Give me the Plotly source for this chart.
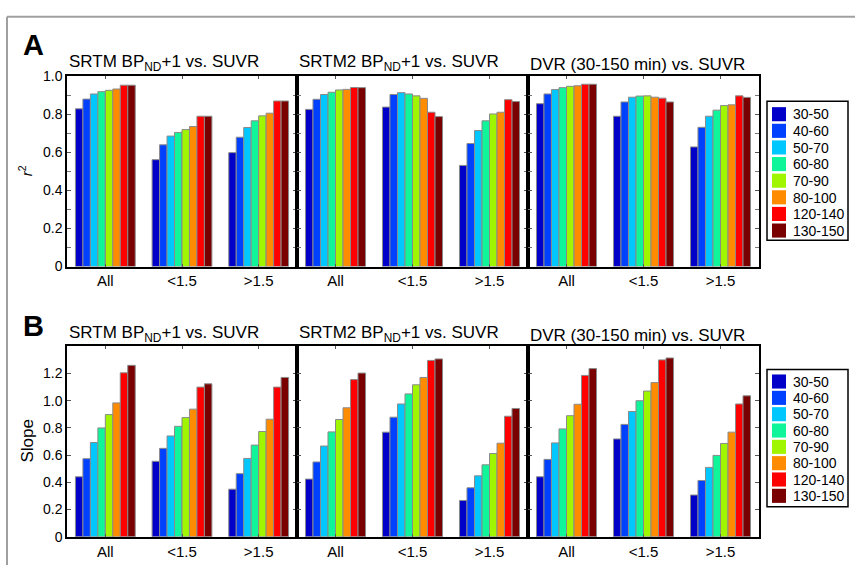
import plotly.graph_objects as go

# ---------------- data ----------------
groups = ["All", "<1.5", ">1.5"]
windows = ["30-50", "40-60", "50-70", "60-80", "70-90", "80-100", "120-140", "130-150"]
colors = ["#0000C8", "#0040FF", "#00C8FF", "#10F59A", "#A0F500", "#FF8C00", "#FF0000", "#7A0000"]

panel_titles = ["SRTM BP<sub>ND</sub>+1 vs. SUVR",
                "SRTM2 BP<sub>ND</sub>+1 vs. SUVR",
                "DVR (30-150 min) vs. SUVR"]

# r^2 values: per method, per window -> [All, <1.5, >1.5]
r2_srtm = [[0.828, 0.561, 0.598], [0.879, 0.639, 0.679], [0.906, 0.685, 0.730], [0.918, 0.704, 0.765],
           [0.925, 0.719, 0.791], [0.932, 0.735, 0.805], [0.952, 0.789, 0.869], [0.952, 0.789, 0.869]]
r2_srtm2 = [[0.825, 0.837, 0.531], [0.878, 0.903, 0.646], [0.903, 0.913, 0.714], [0.915, 0.906, 0.765],
            [0.927, 0.896, 0.801], [0.930, 0.883, 0.810], [0.940, 0.810, 0.876], [0.939, 0.787, 0.866]]
r2_dvr = [[0.855, 0.789, 0.628], [0.906, 0.864, 0.731], [0.929, 0.889, 0.789], [0.939, 0.895, 0.821],
          [0.946, 0.896, 0.845], [0.949, 0.889, 0.849], [0.957, 0.884, 0.896], [0.957, 0.864, 0.888]]

# slope values
sl_srtm = [[0.441, 0.555, 0.350], [0.574, 0.650, 0.464], [0.693, 0.741, 0.576], [0.800, 0.812, 0.674],
           [0.898, 0.876, 0.774], [0.984, 0.938, 0.864], [1.205, 1.100, 1.100], [1.260, 1.124, 1.171]]
sl_srtm2 = [[0.424, 0.769, 0.267], [0.550, 0.879, 0.360], [0.667, 0.976, 0.448], [0.771, 1.050, 0.529],
            [0.862, 1.117, 0.612], [0.948, 1.171, 0.688], [1.155, 1.296, 0.886], [1.203, 1.307, 0.943]]
sl_dvr = [[0.441, 0.719, 0.307], [0.569, 0.826, 0.414], [0.690, 0.921, 0.510], [0.793, 1.000, 0.598],
          [0.890, 1.071, 0.686], [0.974, 1.133, 0.769], [1.186, 1.300, 0.976], [1.236, 1.314, 1.036]]

r2_ticks = [0, 0.2, 0.4, 0.6, 0.8, 1.0]
sl_ticks = [0, 0.2, 0.4, 0.6, 0.8, 1.0, 1.2]

r2_sets = [r2_srtm, r2_srtm2, r2_dvr]
sl_sets = [sl_srtm, sl_srtm2, sl_dvr]

# ---------------- layout geometry ----------------
W, H = 855, 573
FONT = "Liberation Sans, Arial, Helvetica, sans-serif"
xpx = [(67, 297), (297, 528), (528, 759)]
rows = [(70, 266), (348, 544)]  # top, bottom in px


def px_x(a):
    return a / W


def px_y(a):
    return 1 - a / H


fig = go.Figure()
layout = {}
ax = 0
for r, (sets, yr, tvals, minor) in enumerate([
        (r2_sets, [0, 1.0], r2_ticks, 0.1),
        (sl_sets, [0, 1.4], sl_ticks, None)]):
    for c in range(3):
        ax += 1
        xa = "x" if ax == 1 else f"x{ax}"
        ya = "y" if ax == 1 else f"y{ax}"
        data = sets[c]
        for i, w in enumerate(windows):
            fig.add_trace(go.Bar(
                x=groups, y=data[i], name=w,
                marker=dict(color=colors[i], line=dict(color="#8a8a8a", width=1)),
                xaxis=xa, yaxis=ya, showlegend=False,
            ))
        layout[f"xaxis{'' if ax == 1 else ax}"] = dict(
            domain=[px_x(xpx[c][0]), px_x(xpx[c][1])], anchor=ya, showline=True,
            linecolor="black", linewidth=1.5, mirror="ticks", ticks="inside", ticklen=3,
            tickcolor="#555", tickfont=dict(size=15, color="black", family=FONT), showgrid=False,
        )
        yax = dict(
            domain=[px_y(rows[r][1]), px_y(rows[r][0])], anchor=xa, range=yr, showline=True,
            linecolor="black", linewidth=1.5, mirror="ticks", ticks="inside", ticklen=4,
            tickcolor="#555", tickvals=tvals,
            ticktext=["0" if v == 0 else f"{v:.1f}" for v in tvals],
            showgrid=False, zeroline=False,
            showticklabels=(c == 0), tickfont=dict(size=14, color="black", family=FONT),
        )
        if minor:
            yax["minor"] = dict(dtick=minor, tick0=0, ticks="inside", ticklen=4, tickcolor="#777")
        layout[f"yaxis{'' if ax == 1 else ax}"] = yax

fig.update_layout(**layout)
fig.update_layout(
    width=W, height=H, margin=dict(l=0, r=0, t=0, b=0),
    paper_bgcolor="white", plot_bgcolor="white", showlegend=False,
    barmode="group", bargap=0.22, bargroupgap=0,
    font=dict(family=FONT, color="black"),
)

ann = []
shapes = []
for r, ytop in enumerate([70, 349]):
    for c in range(3):
        ann.append(dict(text=panel_titles[c], x=px_x(xpx[c][0] + 0), y=px_y(ytop),
                        xref="paper", yref="paper", xanchor="left", yanchor="bottom",
                        showarrow=False, font=dict(size=17, family=FONT, color="black")))
ann.append(dict(text="<b>A</b>", x=px_x(21), y=px_y(38), xref="paper", yref="paper",
                xanchor="left", yanchor="middle", showarrow=False,
                font=dict(size=29, family=FONT, color="black")))
ann.append(dict(text="<b>B</b>", x=px_x(21), y=px_y(327), xref="paper", yref="paper",
                xanchor="left", yanchor="middle", showarrow=False,
                font=dict(size=29, family=FONT, color="black")))
ann.append(dict(text="<i>r</i><sup>2</sup>", x=px_x(25), y=px_y(168), xref="paper", yref="paper",
                xanchor="center", yanchor="middle", textangle=-90, showarrow=False,
                font=dict(size=15, family=FONT, color="black")))
ann.append(dict(text="Slope", x=px_x(28), y=px_y(446), xref="paper", yref="paper",
                xanchor="center", yanchor="middle", textangle=-90, showarrow=False,
                font=dict(size=17, family=FONT, color="black")))

# manual legends (one per panel)
for (box_top, box_bot, first_sq, pitch) in [(96, 239, 102, 17.1), (372, 513, 377, 16.8)]:
    shapes.append(dict(type="rect", xref="paper", yref="paper",
                       x0=px_x(767), x1=px_x(848), y0=px_y(box_bot), y1=px_y(box_top),
                       line=dict(color="black", width=1.5), fillcolor="white", layer="above"))
    for i, w in enumerate(windows):
        t = first_sq + i * pitch
        shapes.append(dict(type="rect", xref="paper", yref="paper",
                           x0=px_x(772), x1=px_x(786), y0=px_y(t + 14.5), y1=px_y(t),
                           line=dict(width=0), fillcolor=colors[i], layer="above"))
        ann.append(dict(text=w, x=px_x(791), y=px_y(t + 7.5), xref="paper", yref="paper",
                        xanchor="left", yanchor="middle", showarrow=False,
                        font=dict(size=14, family=FONT, color="black")))

# outer grey frame lines
shapes.append(dict(type="line", xref="paper", yref="paper", x0=px_x(7), x1=1, y0=px_y(9), y1=px_y(9),
                   line=dict(color="#a0a0a0", width=2)))
shapes.append(dict(type="line", xref="paper", yref="paper", x0=px_x(7), x1=px_x(7), y0=0, y1=px_y(9),
                   line=dict(color="#a0a0a0", width=2)))

fig.update_layout(annotations=ann, shapes=shapes)
fig.write_html("out.html")
